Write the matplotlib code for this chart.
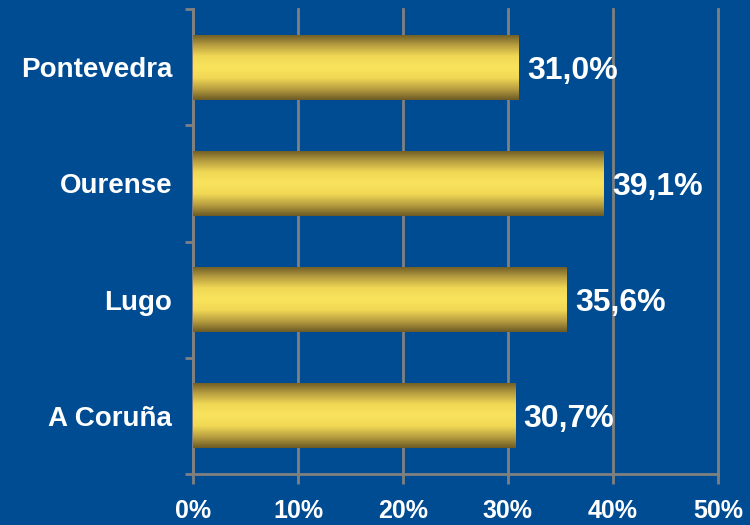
import numpy as np
import matplotlib.pyplot as plt
from matplotlib.colors import LinearSegmentedColormap

provincias = ['A Coruña', 'Lugo', 'Ourense', 'Pontevedra']
valores = [30.7, 35.6, 39.1, 31.0]
etiquetas = ['30,7%', '35,6%', '39,1%', '31,0%']
xticks = [0, 10, 20, 30, 40, 50]
xtick_labels = ['0%', '10%', '20%', '30%', '40%', '50%']

fondo = '#004C93'
gris = '#808080'

plt.rcParams['font.family'] = ['Liberation Sans', 'DejaVu Sans']
plt.rcParams['font.weight'] = 'bold'

fig = plt.figure(figsize=(7.5, 5.25), dpi=100, facecolor=fondo)
ax = fig.add_axes([0.2573, 0.0971, 0.70, 0.8858], facecolor=fondo)

bars = ax.barh(range(len(provincias)), valores, height=0.56, color='#F8E05A', zorder=2)

# degradado dorado: oscuro en los bordes, claro en el centro
cmap = LinearSegmentedColormap.from_list('oro', ['#6B5A24', '#B89E40', '#F0D855', '#FAE35C',
                                                 '#F0D855', '#B89E40', '#6B5A24'])
grad = np.linspace(0, 1, 256).reshape(-1, 1)
for b in bars:
    x0, y0 = b.get_x(), b.get_y()
    im = ax.imshow(grad, cmap=cmap, aspect='auto', zorder=3,
                   extent=[x0, x0 + b.get_width(), y0, y0 + b.get_height()])
    im.set_clip_path(b)

for i, (v, t) in enumerate(zip(valores, etiquetas)):
    ax.text(v + 0.8, i, t, va='center_baseline', ha='left', color='white',
            fontsize=23, fontweight='bold', zorder=4)

ax.set_xlim(0, 50)
ax.set_ylim(-0.5, len(provincias) - 0.5)
ax.set_xticks(xticks)
ax.set_xticklabels(xtick_labels, fontsize=18, fontweight='bold', color='white')
ax.set_yticks(range(len(provincias)))
ax.set_yticklabels(provincias, fontsize=20, fontweight='bold', color='white')
ax.tick_params(axis='y', length=0, pad=15)
ax.set_yticks([-0.5, 0.5, 1.5, 2.5, 3.5], minor=True)
ax.tick_params(axis='y', which='minor', length=6, color=gris, width=2)
ax.tick_params(axis='x', length=7, color=gris, width=2, pad=11)

ax.grid(axis='x', color=gris, linewidth=2, zorder=1)
for gl in ax.get_xgridlines():
    gl.set_clip_on(False)
ax.set_axisbelow(True)
for s in ['top', 'right']:
    ax.spines[s].set_visible(False)
for s in ['left', 'bottom']:
    ax.spines[s].set_color(gris)
    ax.spines[s].set_linewidth(2)

fig.savefig('out.png', dpi=100, facecolor=fondo)
